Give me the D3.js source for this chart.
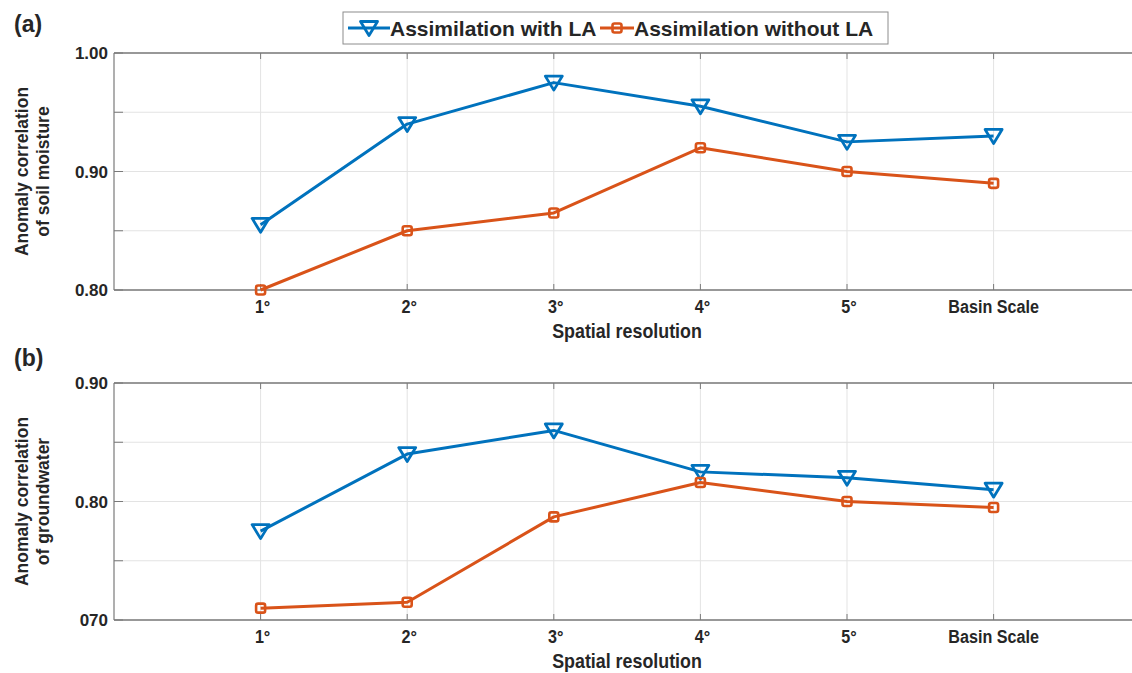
<!DOCTYPE html>
<html>
<head>
  <meta charset="utf-8">
  <title>Anomaly correlation vs spatial resolution</title>
  <script src="https://d3js.org/d3.v7.min.js"></script>
  <style>
    body { margin: 0; background: #fff; }
    text { font-family: "Liberation Sans", Arial, sans-serif; font-weight: bold; fill: #262626; }
  </style>
</head>
<body>
<div id="chart"></div>
<script>
// ---- data ----
const categories = ["1°", "2°", "3°", "4°", "5°", "Basin Scale"];
const seriesNames = ["Assimilation with LA", "Assimilation without LA"];
const soilWithLA    = [0.855, 0.940, 0.975, 0.955, 0.925, 0.930];
const soilWithoutLA = [0.800, 0.850, 0.865, 0.920, 0.900, 0.890];
const gwWithLA      = [0.775, 0.840, 0.860, 0.825, 0.820, 0.810];
const gwWithoutLA   = [0.710, 0.715, 0.787, 0.816, 0.800, 0.795];
const soilTicks = [0.80, 0.85, 0.90, 0.95, 1.00];
const soilTickLabels = ["0.80", "", "0.90", "", "1.00"];
const gwTicks = [0.70, 0.75, 0.80, 0.85, 0.90];
const gwTickLabels = ["070", "", "0.80", "", "0.90"];

const W = 1132, H = 673;
const blue = "#0072BD", orange = "#D95319";

const svg = d3.select("#chart").append("svg")
  .attr("width", W).attr("height", H);

// x positions: index 1..6, axis starts at 0
const x = d3.scaleLinear().domain([0, 7]).range([114, 114 + 7 * 146.6]);

// condensed bold text (like the narrow font of the original)
function narrowText(g, cx, cy, size, str) {
  return g.append("text")
    .attr("transform", `translate(${cx},${cy}) scale(0.85,1)`)
    .attr("text-anchor", "middle").attr("font-size", size).text(str);
}

// legend
const leg = svg.append("g");
leg.append("rect").attr("x", 343).attr("y", 12).attr("width", 545).attr("height", 32)
  .attr("fill", "#fff").attr("stroke", "#8c8c8c").attr("stroke-width", 1);

function triangle(g, cx, cy) {
  g.append("path")
    .attr("d", `M${cx - 8.5},${cy - 6.5} L${cx + 8.5},${cy - 6.5} L${cx},${cy + 7.5} Z`)
    .attr("fill", "none").attr("stroke", blue).attr("stroke-width", 2.8)
    .attr("stroke-linejoin", "round");
}
function square(g, cx, cy) {
  g.append("rect").attr("x", cx - 4.5).attr("y", cy - 4.5).attr("width", 9).attr("height", 9)
    .attr("rx", 2).attr("fill", "none").attr("stroke", orange).attr("stroke-width", 2.6);
}

leg.append("line").attr("x1", 348).attr("x2", 390).attr("y1", 28).attr("y2", 28)
  .attr("stroke", blue).attr("stroke-width", 3);
triangle(leg, 369, 28);
leg.append("text").attr("x", 390).attr("y", 35.5).attr("font-size", 21).text(seriesNames[0]);
leg.append("line").attr("x1", 600).attr("x2", 634).attr("y1", 28).attr("y2", 28)
  .attr("stroke", orange).attr("stroke-width", 3);
square(leg, 617, 28);
leg.append("text").attr("x", 634).attr("y", 35.5).attr("font-size", 21).text(seriesNames[1]);

function panel(top, bottom, ticks, tickLabels, ylab, s1, s2, tag, tagY) {
  const y = d3.scaleLinear().domain([ticks[0], ticks[ticks.length - 1]]).range([bottom, top]);
  const g = svg.append("g");

  // grid
  g.selectAll(".hg").data(ticks).join("line")
    .attr("x1", x(0)).attr("x2", W).attr("y1", d => y(d)).attr("y2", d => y(d))
    .attr("stroke", "#e3e3e3").attr("stroke-width", 1);
  g.selectAll(".vg").data(categories).join("line")
    .attr("x1", (d, i) => x(i + 1)).attr("x2", (d, i) => x(i + 1))
    .attr("y1", top).attr("y2", bottom)
    .attr("stroke", "#e3e3e3").attr("stroke-width", 1);

  // box: top, bottom and left
  g.append("line").attr("x1", x(0)).attr("x2", W).attr("y1", top).attr("y2", top)
    .attr("stroke", "#7a7a7a").attr("stroke-width", 1.6);
  g.append("line").attr("x1", x(0)).attr("x2", W).attr("y1", bottom).attr("y2", bottom)
    .attr("stroke", "#7a7a7a").attr("stroke-width", 1.6);
  g.append("line").attr("x1", x(0)).attr("x2", x(0)).attr("y1", top).attr("y2", bottom)
    .attr("stroke", "#7a7a7a").attr("stroke-width", 1.2);

  // inward ticks
  g.selectAll(".yt").data(ticks).join("line")
    .attr("x1", x(0)).attr("x2", x(0) + 9).attr("y1", d => y(d)).attr("y2", d => y(d))
    .attr("stroke", "#7a7a7a").attr("stroke-width", 1);
  categories.forEach((c, i) => {
    g.append("line").attr("x1", x(i + 1)).attr("x2", x(i + 1)).attr("y1", top).attr("y2", top + 6)
      .attr("stroke", "#7a7a7a").attr("stroke-width", 1);
    g.append("line").attr("x1", x(i + 1)).attr("x2", x(i + 1)).attr("y1", bottom).attr("y2", bottom - 6)
      .attr("stroke", "#7a7a7a").attr("stroke-width", 1);
  });

  // tick labels
  g.selectAll(".ytl").data(ticks).join("text")
    .attr("x", x(0) - 6).attr("y", d => y(d) + 6).attr("text-anchor", "end")
    .attr("font-size", 17).text((d, i) => tickLabels[i]);
  categories.forEach((c, i) => {
    narrowText(g, x(i + 1) + (i === 5 ? 0 : 2), bottom + 23, 19, c);
  });

  // axis titles
  narrowText(g, 627, bottom + 48, 21, "Spatial resolution");
  const yl = g.append("text").attr("transform", `translate(0,${(top + bottom) / 2}) rotate(-90)`)
    .attr("text-anchor", "middle").attr("font-size", 17.5);
  yl.append("tspan").attr("x", 0).attr("y", 28).text(ylab[0]);
  yl.append("tspan").attr("x", 0).attr("y", 49).text(ylab[1]);

  g.append("text").attr("x", 14).attr("y", tagY).attr("font-size", 23).text(tag);

  // lines
  const line = d3.line().x((d, i) => x(i + 1)).y(d => y(d));
  g.append("path").datum(s1).attr("d", line).attr("fill", "none")
    .attr("stroke", blue).attr("stroke-width", 3).attr("stroke-linejoin", "round");
  g.append("path").datum(s2).attr("d", line).attr("fill", "none")
    .attr("stroke", orange).attr("stroke-width", 3).attr("stroke-linejoin", "round");
  s1.forEach((v, i) => triangle(g, x(i + 1), y(v)));
  s2.forEach((v, i) => square(g, x(i + 1), y(v)));
}

panel(53, 290, soilTicks, soilTickLabels, ["Anomaly correlation", "of soil moisture"],
  soilWithLA, soilWithoutLA, "(a)", 32);
panel(383, 620, gwTicks, gwTickLabels, ["Anomaly correlation", "of groundwater"],
  gwWithLA, gwWithoutLA, "(b)", 366);
</script>
</body>
</html>
